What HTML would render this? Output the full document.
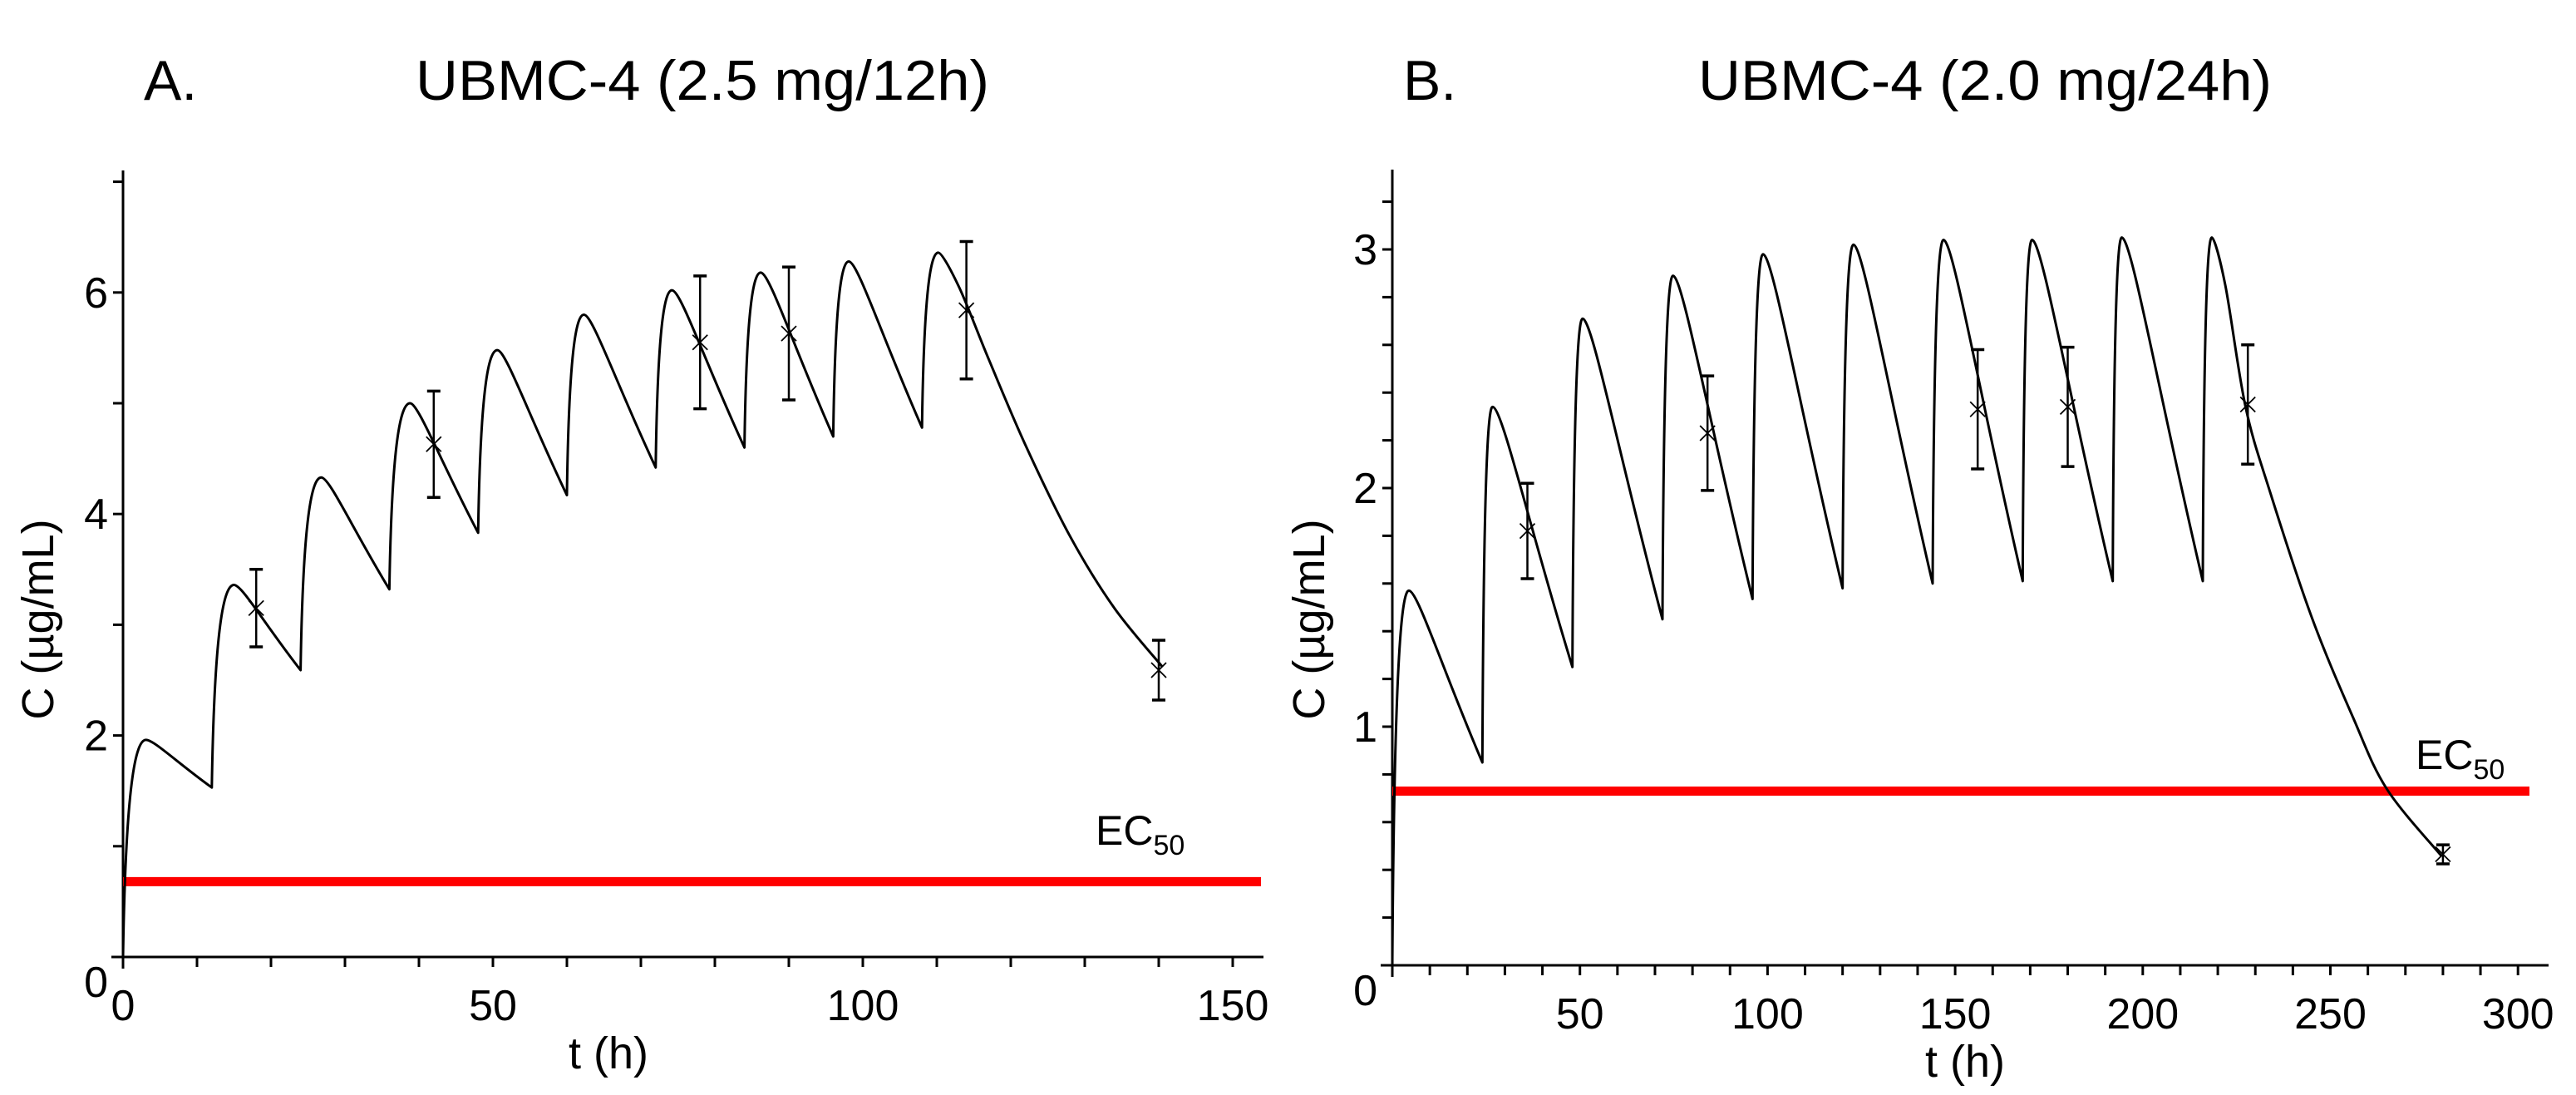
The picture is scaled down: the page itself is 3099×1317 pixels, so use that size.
<!DOCTYPE html>
<html><head><meta charset="utf-8">
<style>
html,body{margin:0;padding:0;background:#fff;}
svg{display:block;}
text{font-family:"Liberation Sans",Arial,sans-serif;fill:#000;}
</style></head>
<body>
<svg id="fig" xmlns="http://www.w3.org/2000/svg" width="3099" height="1317" viewBox="0 0 3099 1317">
<rect x="0" y="0" width="3099" height="1317" fill="#fff"/>
<g id="panelA"></g>
<g id="panelB"></g>
</svg>
<script>
// ---------- Panel A data (2.5 mg / 12h) ----------
const aDoseTimes = [0, 12, 24, 36, 48, 60, 72, 84, 96, 108];
const aPeakTimes = [3.1, 15, 26.8, 38.8, 50.6, 62.3, 74.2, 86.2, 98.1, 110.2];
const aPeaks = [1.96, 3.36, 4.33, 5.0, 5.48, 5.8, 6.02, 6.18, 6.28, 6.36];
const aTroughs = [0, 1.53, 2.59, 3.32, 3.83, 4.17, 4.42, 4.6, 4.7, 4.78];
const aTailT = [110.2, 113, 117, 122, 128, 134, 140.5];
const aTailC = [6.36, 6.05, 5.4, 4.62, 3.8, 3.15, 2.62];
const aObsT = [18, 42, 78, 90, 114, 140];
const aObsC = [3.15, 4.63, 5.55, 5.63, 5.84, 2.59];
const aObsErr = [0.35, 0.48, 0.6, 0.6, 0.62, 0.27];
const aEC50 = 0.68;
const aXTicks = [0, 50, 100, 150];
const aYTicks = [0, 2, 4, 6];

// ---------- Panel B data (2.0 mg / 24h) ----------
const bDoseTimes = [0, 24, 48, 72, 96, 120, 144, 168, 192, 216];
const bPeakTimes = [4.4, 26.7, 50.7, 74.8, 98.8, 122.9, 146.9, 170.5, 194.4, 218.4];
const bPeaks = [1.57, 2.34, 2.71, 2.89, 2.98, 3.02, 3.04, 3.04, 3.05, 3.05];
const bTroughs = [0, 0.85, 1.25, 1.45, 1.535, 1.58, 1.6, 1.61, 1.61, 1.61];
const bTailT = [218.4, 222, 227.4, 234, 245, 256, 265, 279.5];
const bTailC = [3.05, 2.85, 2.34, 1.98, 1.46, 1.04, 0.74, 0.46];
const bObsT = [36, 84, 156, 180, 228, 280];
const bObsC = [1.82, 2.23, 2.33, 2.34, 2.35, 0.465];
const bObsErr = [0.2, 0.24, 0.25, 0.25, 0.25, 0.04];
const bEC50 = 0.73;
const bXTicks = [50, 100, 150, 200, 250, 300];
const bYTicks = [0, 1, 2, 3];

const NS = "http://www.w3.org/2000/svg";
function mk(parent, tag, attrs) {
  const e = document.createElementNS(NS, tag);
  for (const k in attrs) e.setAttribute(k, attrs[k]);
  parent.appendChild(e);
  return e;
}

function drawPanel(g, cfg) {
  const X = t => cfg.x0 + t * cfg.sx;
  const Y = c => cfg.y0 - c * cfg.sy;

  const lab = mk(g, 'text', {x: cfg.letterX, y: 120, 'font-size': 68});
  lab.textContent = cfg.letter;
  
  
  const tt = mk(g, 'text', {x: cfg.titleX, y: 120, 'font-size': 68, textLength: 690, lengthAdjust: 'spacingAndGlyphs'});
  tt.textContent = cfg.title;
  
  

  const ya = mk(g, 'line', {x1: cfg.x0, y1: cfg.yTop, x2: cfg.x0, y2: cfg.y0 + 14, stroke: '#000', 'stroke-width': 3});
  
  
  const xa = mk(g, 'line', {x1: cfg.x0 - 14, y1: cfg.y0, x2: cfg.xEnd, y2: cfg.y0, stroke: '#000', 'stroke-width': 3});
  
  

  for (let t = cfg.xMinorStep; X(t) <= cfg.xEnd - 5; t += cfg.xMinorStep) {
    const tk = mk(g, 'line', {x1: X(t), y1: cfg.y0, x2: X(t), y2: cfg.y0 + 12, stroke: '#000', 'stroke-width': 3});
    
    
  }
  cfg.xTicks.forEach(t => {
    const tx = mk(g, 'text', {x: X(t), y: cfg.y0 + 76, 'font-size': 52, 'text-anchor': 'middle'});
    tx.textContent = t;
    
    
  });
  for (let c = cfg.yMinorStep; Y(c) >= cfg.yTop + 5; c += cfg.yMinorStep) {
    const tk = mk(g, 'line', {x1: cfg.x0 - 12, y1: Y(c), x2: cfg.x0, y2: Y(c), stroke: '#000', 'stroke-width': 3});
    
    
  }
  cfg.yTicks.forEach(c => {
    const dy = c === 0 ? 48 : 18;
    const ty = mk(g, 'text', {x: cfg.x0 - 18, y: Y(c) + dy, 'font-size': 52, 'text-anchor': 'end'});
    ty.textContent = c;
    
    
  });

  const xt = mk(g, 'text', {x: cfg.xTitleX, y: cfg.y0 + 134, 'font-size': 54, 'text-anchor': 'middle'});
  xt.textContent = 't (h)';
  
  
  const yt = mk(g, 'text', {x: 0, y: 0, 'font-size': 54, 'text-anchor': 'middle', transform: `translate(${cfg.yTitleX},745) rotate(-90)`});
  yt.textContent = 'C (µg/mL)';
  
  

  const ec = mk(g, 'line', {x1: cfg.x0, y1: Y(cfg.ec50), x2: cfg.redEnd, y2: Y(cfg.ec50), stroke: '#ff0000', 'stroke-width': 11});
  
  
  const el = mk(g, 'text', {x: cfg.ecX, y: cfg.ecY, 'font-size': 50});
  
  
  el.innerHTML = 'EC<tspan font-size="34" dy="12">50</tspan>';

  let d = `M${X(cfg.dose[0])},${Y(cfg.troughs[0])}`;
  const n = cfg.dose.length;
  for (let i = 0; i < n; i++) {
    const t0 = cfg.dose[i], tp = cfg.peakT[i], tr = cfg.troughs[i], pk = cfg.peaks[i];
    const dt = tp - t0;
    d += ` C${X(t0 + 0.12 * dt)},${Y(tr + 0.8 * (pk - tr))} ${X(tp - 0.45 * dt)},${Y(pk)} ${X(tp)},${Y(pk)}`;
    if (i < n - 1) {
      const tn = cfg.dose[i + 1], cn = cfg.troughs[i + 1], dd = tn - tp;
      d += ` C${X(tp + 0.12 * dd)},${Y(pk)} ${X(tp + 0.45 * dd)},${Y(cn + 0.55 * (pk - cn))} ${X(tn)},${Y(cn)}`;
    }
  }
  const P = cfg.tailT.map((t, i) => [X(t), Y(cfg.tailC[i])]);
  for (let i = 0; i < P.length - 1; i++) {
    const p0 = P[Math.max(0, i - 1)], p1 = P[i], p2 = P[i + 1], p3 = P[Math.min(P.length - 1, i + 2)];
    const c1 = [p1[0] + (p2[0] - p0[0]) / 6, p1[1] + (p2[1] - p0[1]) / 6];
    const c2 = [p2[0] - (p3[0] - p1[0]) / 6, p2[1] - (p3[1] - p1[1]) / 6];
    if (i === 0) c1[1] = p1[1];
    d += ` C${c1[0]},${c1[1]} ${c2[0]},${c2[1]} ${p2[0]},${p2[1]}`;
  }
  const curve = mk(g, 'path', {d: d, fill: 'none', stroke: '#000', 'stroke-width': 3, 'stroke-linejoin': 'round'});
  
  

  cfg.obsT.forEach((t, i) => {
    const px = X(t), py = Y(cfg.obsC[i]);
    const hi = Y(cfg.obsC[i] + cfg.obsErr[i]), lo = Y(cfg.obsC[i] - cfg.obsErr[i]);
    const pg = mk(g, 'g', {stroke: '#000', 'stroke-width': 2.5});
    
    
    mk(pg, 'line', {x1: px, y1: hi, x2: px, y2: lo});
    mk(pg, 'line', {x1: px - 8, y1: hi, x2: px + 8, y2: hi, 'stroke-width': 3.5});
    mk(pg, 'line', {x1: px - 8, y1: lo, x2: px + 8, y2: lo, 'stroke-width': 3.5});
    mk(pg, 'line', {x1: px - 9, y1: py - 9, x2: px + 9, y2: py + 9, 'stroke-width': 1.8});
    mk(pg, 'line', {x1: px - 9, y1: py + 9, x2: px + 9, y2: py - 9, 'stroke-width': 1.8});
  });
}

drawPanel(document.getElementById('panelA'), {
  x0: 148, y0: 1151, sx: 8.9, sy: 133.2, yTop: 205, xEnd: 1520, redEnd: 1517,
  xMinorStep: 10, yMinorStep: 1, xTicks: aXTicks, yTicks: aYTicks,
  letter: 'A.', letterX: 173, title: 'UBMC-4 (2.5 mg/12h)', titleX: 500,
  xTitleX: 732, yTitleX: 64, ec50: aEC50, ecX: 1318, ecY: 1016,
  dose: aDoseTimes, peakT: aPeakTimes, peaks: aPeaks, troughs: aTroughs,
  tailT: aTailT, tailC: aTailC, obsT: aObsT, obsC: aObsC, obsErr: aObsErr
});
drawPanel(document.getElementById('panelB'), {
  x0: 1675, y0: 1161, sx: 4.514, sy: 287, yTop: 204, xEnd: 3066, redEnd: 3043,
  xMinorStep: 10, yMinorStep: 0.2, xTicks: bXTicks, yTicks: bYTicks,
  letter: 'B.', letterX: 1688, title: 'UBMC-4 (2.0 mg/24h)', titleX: 2043,
  xTitleX: 2364, yTitleX: 1593, ec50: bEC50, ecX: 2906, ecY: 925,
  dose: bDoseTimes, peakT: bPeakTimes, peaks: bPeaks, troughs: bTroughs,
  tailT: bTailT, tailC: bTailC, obsT: bObsT, obsC: bObsC, obsErr: bObsErr
});
</script>
</body></html>
